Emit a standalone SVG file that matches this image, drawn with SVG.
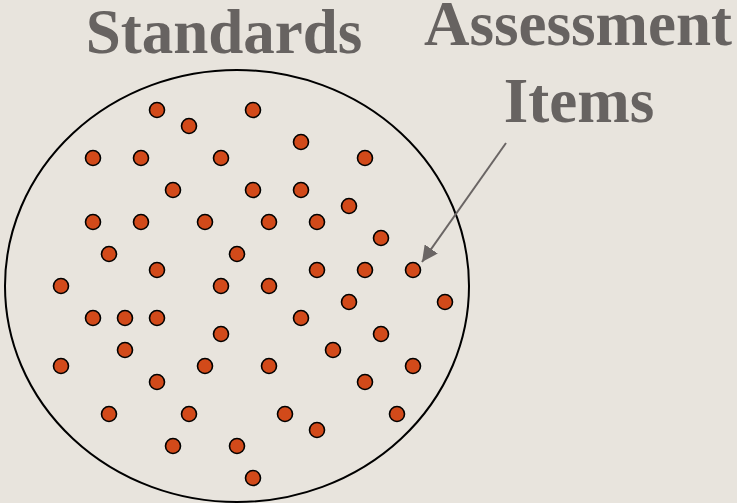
<svg xmlns="http://www.w3.org/2000/svg" width="737" height="503" viewBox="0 0 737 503">
<style>
.t{font-family:"Liberation Serif","Times New Roman",serif;font-weight:bold;font-size:63px;fill:#676361;text-anchor:middle}
.d{fill:#d24a1a;stroke:#000;stroke-width:1.6}
</style>
<defs>
<marker id="ah" viewBox="0 0 10 10" refX="9" refY="5" markerWidth="5" markerHeight="5" orient="auto" markerUnits="userSpaceOnUse" overflow="visible">
<path d="M0,0 L10,5 L0,10 z" fill="#6a6564"/>
</marker>
<marker id="a2" viewBox="0 0 12 12" refX="12" refY="6" markerWidth="16" markerHeight="16" orient="auto" markerUnits="userSpaceOnUse">
<path d="M0,0 L12,6 L0,12 z" fill="#6a6564"/>
</marker>
</defs>
<rect width="737" height="503" fill="#e8e4dd"/>
<g id="standards">
<ellipse cx="237" cy="286" rx="232" ry="216" fill="none" stroke="#000" stroke-width="2"/>
<text class="t" x="224" y="53">Standards</text>
</g>
<g id="assessment-items">
<text class="t" x="578" y="45">Assessment</text>
<text class="t" x="579" y="122">Items</text>
</g>
<g id="dots">
<circle class="d" cx="157" cy="110" r="7.5"/>
<circle class="d" cx="253" cy="110" r="7.5"/>
<circle class="d" cx="189" cy="126" r="7.5"/>
<circle class="d" cx="301" cy="142" r="7.5"/>
<circle class="d" cx="93" cy="158" r="7.5"/>
<circle class="d" cx="141" cy="158" r="7.5"/>
<circle class="d" cx="221" cy="158" r="7.5"/>
<circle class="d" cx="365" cy="158" r="7.5"/>
<circle class="d" cx="173" cy="190" r="7.5"/>
<circle class="d" cx="253" cy="190" r="7.5"/>
<circle class="d" cx="301" cy="190" r="7.5"/>
<circle class="d" cx="349" cy="206" r="7.5"/>
<circle class="d" cx="93" cy="222" r="7.5"/>
<circle class="d" cx="141" cy="222" r="7.5"/>
<circle class="d" cx="205" cy="222" r="7.5"/>
<circle class="d" cx="269" cy="222" r="7.5"/>
<circle class="d" cx="317" cy="222" r="7.5"/>
<circle class="d" cx="381" cy="238" r="7.5"/>
<circle class="d" cx="109" cy="254" r="7.5"/>
<circle class="d" cx="237" cy="254" r="7.5"/>
<circle class="d" cx="157" cy="270" r="7.5"/>
<circle class="d" cx="317" cy="270" r="7.5"/>
<circle class="d" cx="365" cy="270" r="7.5"/>
<circle class="d" cx="413" cy="270" r="7.5"/>
<circle class="d" cx="61" cy="286" r="7.5"/>
<circle class="d" cx="221" cy="286" r="7.5"/>
<circle class="d" cx="269" cy="286" r="7.5"/>
<circle class="d" cx="349" cy="302" r="7.5"/>
<circle class="d" cx="445" cy="302" r="7.5"/>
<circle class="d" cx="93" cy="318" r="7.5"/>
<circle class="d" cx="125" cy="318" r="7.5"/>
<circle class="d" cx="157" cy="318" r="7.5"/>
<circle class="d" cx="301" cy="318" r="7.5"/>
<circle class="d" cx="221" cy="334" r="7.5"/>
<circle class="d" cx="381" cy="334" r="7.5"/>
<circle class="d" cx="125" cy="350" r="7.5"/>
<circle class="d" cx="333" cy="350" r="7.5"/>
<circle class="d" cx="61" cy="366" r="7.5"/>
<circle class="d" cx="205" cy="366" r="7.5"/>
<circle class="d" cx="269" cy="366" r="7.5"/>
<circle class="d" cx="413" cy="366" r="7.5"/>
<circle class="d" cx="157" cy="382" r="7.5"/>
<circle class="d" cx="365" cy="382" r="7.5"/>
<circle class="d" cx="109" cy="414" r="7.5"/>
<circle class="d" cx="189" cy="414" r="7.5"/>
<circle class="d" cx="285" cy="414" r="7.5"/>
<circle class="d" cx="397" cy="414" r="7.5"/>
<circle class="d" cx="317" cy="430" r="7.5"/>
<circle class="d" cx="173" cy="446" r="7.5"/>
<circle class="d" cx="237" cy="446" r="7.5"/>
<circle class="d" cx="253" cy="478" r="7.5"/>
</g>
<g id="connectors">
<line x1="506" y1="143" x2="422" y2="262" stroke="#6a6564" stroke-width="2" marker-end="url(#a2)"/>
</g>
</svg>
